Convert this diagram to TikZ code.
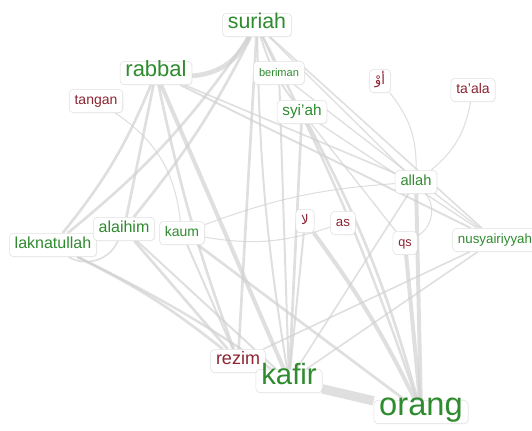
\documentclass[tikz,border=0pt]{standalone}
\usepackage{fontspec}
\setsansfont{Liberation Sans}
\newfontfamily\arabicfont[Script=Arabic]{DejaVu Sans}
\TeXXeTstate=1
\usetikzlibrary{backgrounds,shadows}
\definecolor{wordgreen}{RGB}{46,139,46}
\definecolor{wordred}{RGB}{140,36,50}
\tikzset{
  word/.style={draw=black!12, fill=white, rounded corners=3pt, inner xsep=4pt, inner ysep=4pt,
    text height=0.75em, text depth=0.2em,
    drop shadow={opacity=0.07, shadow xshift=0.6pt, shadow yshift=-0.6pt}},
  fs/.style={font=\sffamily\fontsize{#1}{#1}\selectfont},
  ar/.style={font=\arabicfont\fontsize{#1}{#1}\selectfont},
  link/.style={draw=black!18, line width=#1, opacity=0.7},
}
\begin{document}
\begin{tikzpicture}[x=0.75pt,y=-0.75pt]
\useasboundingbox (0,0) rectangle (532,431);
\clip (0,0) rectangle (532,431);
\node[word,fs=16,text=wordgreen] (suriah) at (257,25) {suriah};
\node[word,fs=16.5,text=wordgreen] (rabbal) at (156,73) {rabbal};
\node[word,fs=10.5,text=wordred] (tangan) at (96,101) {tangan};
\node[word,fs=8.3,text=wordgreen] (beriman) at (279,73) {beriman};
\node[word,fs=11.5,text=wordgreen] (syiah) at (302,112) {syi'ah};
\node[word,ar=10,text=wordred] (aw) at (380,81) {\beginR أوْ\endR};
\node[word,fs=10.5,text=wordred] (taala) at (473,90) {ta'ala};
\node[word,fs=11,text=wordgreen] (allah) at (416,182) {allah};
\node[word,fs=12,text=wordgreen] (laknatullah) at (53,245) {laknatullah};
\node[word,fs=12,text=wordgreen] (alaihim) at (124,229) {alaihim};
\node[word,fs=10.5,text=wordgreen] (kaum) at (182,233) {kaum};
\node[word,ar=10,text=wordred] (laa) at (305,221) {\beginR لا\endR};
\node[word,fs=10,text=wordred] (as) at (343,223) {as};
\node[word,fs=9.5,text=wordred] (qs) at (405,243) {qs};
\node[word,fs=10,text=wordgreen] (nusyairiyyah) at (495,240) {nusyairiyyah};
\node[word,fs=13.5,text=wordred] (rezim) at (238,361) {rezim};
\node[word,fs=22,text=wordgreen] (kafir) at (289,381) {kafir};
\node[word,fs=24.5,text=wordgreen] (orang) at (421,412) {orang};
\begin{scope}[on background layer]
\draw[link=3.5pt] (rabbal) to[bend right=30] (suriah);
\draw[link=2pt] (suriah) to[bend left=8] (laknatullah);
\draw[link=2pt] (suriah) to[bend left=6] (alaihim);
\draw[link=2pt] (suriah) -- (rezim);
\draw[link=1.5pt] (suriah) to[bend right=4] (kafir);
\draw[link=1.8pt] (suriah) to[bend left=4] (orang);
\draw[link=1.2pt] (suriah) -- (beriman);
\draw[link=1.5pt] (suriah) to[bend right=10] (syiah);
\draw[link=1.2pt] (suriah) -- (nusyairiyyah);
\draw[link=1pt] (suriah) -- (allah);
\draw[link=2pt] (rabbal) to[bend left=8] (laknatullah);
\draw[link=2pt] (rabbal) -- (alaihim);
\draw[link=3pt] (rabbal) -- (kafir);
\draw[link=2pt] (rabbal) to[bend right=4] (rezim);
\draw[link=1.5pt] (rabbal) -- (nusyairiyyah);
\draw[link=1.2pt] (rabbal) -- (allah);
\draw[link=0.8pt] (tangan) to[bend left=25] (kaum);
\draw[link=1.2pt] (laknatullah) to[bend right=50] (alaihim);
\draw[link=2pt] (laknatullah) to[bend left=6] (rezim);
\draw[link=1.8pt] (laknatullah) to[bend left=4] (kafir);
\draw[link=2pt] (alaihim) -- (rezim);
\draw[link=1.5pt] (alaihim) -- (kafir);
\draw[link=0.8pt] (kaum) to[bend left=8] (allah);
\draw[link=0.8pt] (kaum) to[bend right=14] (as);
\draw[link=2pt] (kaum) -- (orang);
\draw[link=1.5pt] (kaum) -- (rezim);
\draw[link=2pt] (syiah) -- (kafir);
\draw[link=2pt] (syiah) to[bend left=6] (orang);
\draw[link=1pt] (syiah) -- (qs);
\draw[link=1pt] (syiah) -- (nusyairiyyah);
\draw[link=1.5pt] (beriman) -- (kafir);
\draw[link=1pt] (beriman) -- (nusyairiyyah);
\draw[link=0.8pt] (aw) to[bend left=20] (allah);
\draw[link=0.8pt] (taala) to[bend left=20] (allah);
\draw[link=3pt] (allah) -- (orang);
\draw[link=0.8pt] (allah) to[bend left=50] (qs);
\draw[link=1.2pt] (allah) -- (kafir);
\draw[link=3pt] (qs) -- (orang);
\draw[link=3pt] (laa) to[bend left=5] (orang);
\draw[link=1.5pt] (laa) -- (kafir);
\draw[link=1.2pt] (nusyairiyyah) -- (kafir);
\draw[link=1.2pt] (nusyairiyyah) -- (rezim);
\draw[link=7pt] (kafir) -- (orang);
\end{scope}
\end{tikzpicture}
\end{document}
